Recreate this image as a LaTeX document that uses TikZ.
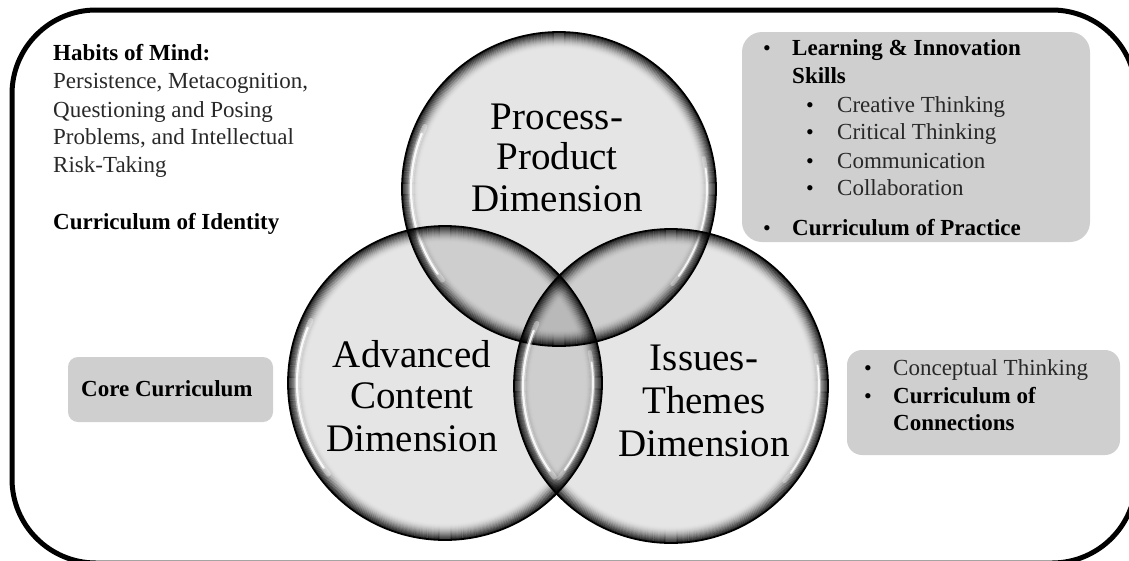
\documentclass[tikz,border=0pt]{standalone}
\usepackage{fontspec}
\setmainfont{Liberation Serif}
\definecolor{panelgray}{RGB}{208,207,208}
\definecolor{bodygray}{RGB}{40,40,40}
\begin{document}
\begin{tikzpicture}[x=1pt,y=-1pt,
  txt/.style={anchor=base west, inner sep=0, font=\fontsize{23}{28}\selectfont, text=bodygray},
  btxt/.style={anchor=base west, inner sep=0, font=\fontsize{23}{28}\selectfont\bfseries, text=black},
  bul/.style={anchor=base west, inner sep=0, font=\fontsize{22}{26}\selectfont, text=black},
  dimtxt/.style={anchor=base, inner sep=0, font=\fontsize{39}{41}\selectfont, text=black},
  panel/.style={fill=panelgray, draw=none, inner sep=0}]
\useasboundingbox (0,0) rectangle (1129,560);
\clip (0,0) rectangle (1129,560);
% outer frame
\draw[line width=5, rounded corners=84] (12,10) rectangle (1136,563);
% panels
\node[panel, minimum width=348, minimum height=210, rounded corners=20] (skillsbox) at (916,137) {};
\node[panel, minimum width=205, minimum height=65, rounded corners=10] (corebox) at (170.5,389.5) {};
\node[panel, minimum width=273, minimum height=105, rounded corners=15] (conbox) at (983.5,402.5) {};
% circles
\coordinate (pp) at (559,189);
\coordinate (ac) at (445,383);
\coordinate (it) at (671,386);
\foreach \c in {pp,ac,it}{
  \fill[black, fill opacity=0.10] (\c) circle[radius=157];
}
\foreach \c in {pp,ac,it}{
  \foreach \k in {1,...,16}{
    \pgfmathsetmacro\op{0.85*(1-\k/17)^2}
    \draw[black, line width=1.3, draw opacity=\op] (\c) circle[radius=157-\k];
  }
  \draw[black, line width=1.8] (\c) circle[radius=157];
  \draw[white, line width=5, line cap=round, draw opacity=0.35] (\c) ++(142:148) arc[start angle=142, end angle=205, radius=148];
  \draw[white, line width=2.2, line cap=round, draw opacity=0.9] (\c) ++(145:148) arc[start angle=145, end angle=202, radius=148];
  \draw[white, line width=4, line cap=round, draw opacity=0.3] (\c) ++(-12:148) arc[start angle=-12, end angle=40, radius=148];
  \draw[white, line width=1.8, line cap=round, draw opacity=0.85] (\c) ++(-8:148) arc[start angle=-8, end angle=36, radius=148];
}
% circle texts
\node[dimtxt] (pp1) at (557,129) {Process-};
\node[dimtxt] (pp2) at (557,169) {Product};
\node[dimtxt] (pp3) at (557,211) {Dimension};
\node[dimtxt] (ac1) at (412,367) {Advanced};
\node[dimtxt] (ac2) at (412,408) {Content};
\node[dimtxt] (ac3) at (412,451) {Dimension};
\node[dimtxt] (it1) at (704,370) {Issues-};
\node[dimtxt] (it2) at (704,413) {Themes};
\node[dimtxt] (it3) at (704,456) {Dimension};
% left text
\node[btxt] (hom) at (53,60) {Habits of Mind:};
\node[txt] (hom1) at (53,88) {Persistence, Metacognition,};
\node[txt] (hom2) at (53,117) {Questioning and Posing};
\node[txt] (hom3) at (53,144) {Problems, and Intellectual};
\node[txt] (hom4) at (53,172) {Risk-Taking};
\node[btxt] (coi) at (53,229) {Curriculum of Identity};
% skills box text
\node[bul] (sb1) at (763,55) {•};
\node[btxt] (lis1) at (792,55) {Learning \& Innovation};
\node[btxt] (lis2) at (792,83) {Skills};
\node[bul] (sb2) at (806,112) {•};
\node[txt] (ct1) at (837,112) {Creative Thinking};
\node[bul] (sb3) at (806,139) {•};
\node[txt] (ct2) at (837,139) {Critical Thinking};
\node[bul] (sb4) at (806,168) {•};
\node[txt] (ct3) at (837,168) {Communication};
\node[bul] (sb5) at (806,195) {•};
\node[txt] (ct4) at (837,195) {Collaboration};
\node[bul] (sb6) at (763,235) {•};
\node[btxt] (cop) at (792,235) {Curriculum of Practice};
% core box text
\node[btxt] (core) at (81,396) {Core Curriculum};
% connections box text
\node[bul] (cb1) at (864,375) {•};
\node[txt] (cpt) at (893,375) {Conceptual Thinking};
\node[bul] (cb2) at (864,403) {•};
\node[btxt] (coc1) at (893,403) {Curriculum of};
\node[btxt] (coc2) at (893,430) {Connections};
\end{tikzpicture}
\end{document}
